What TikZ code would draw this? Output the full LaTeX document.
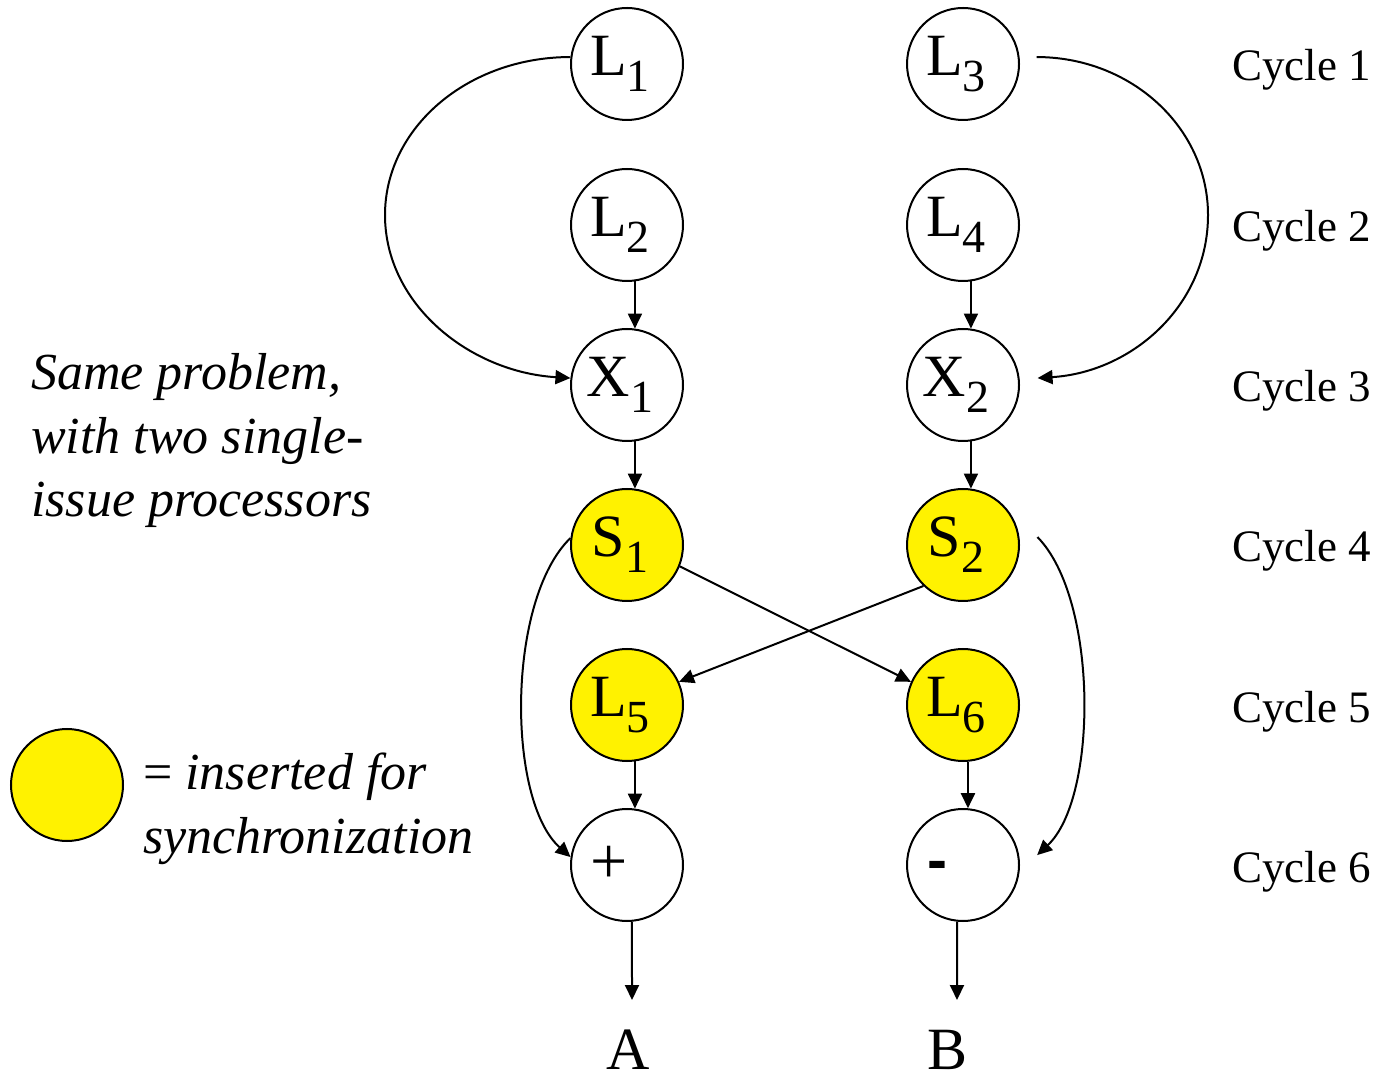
\documentclass[tikz,border=0pt]{standalone}
\usepackage{fontspec}
\setmainfont{Liberation Serif}
\newfontfamily\opfont{Liberation Sans}
\usetikzlibrary{arrows.meta}
% operation label with a lowered index
\newcommand{\opsub}[2]{#1\raisebox{-16pt}{\fontsize{46}{46}\selectfont #2}\kern14pt}

\begin{document}
\begin{tikzpicture}[x=1pt,y=1pt,
  op/.style={circle, draw, line width=2pt, minimum size=112pt, inner sep=0pt,
             font=\fontsize{60}{60}\selectfont},
  sync/.style={op, fill=yellow},
  arr/.style={line width=2pt, -{Triangle[length=15pt,width=14pt]}},
  cyc/.style={anchor=base west, inner sep=0pt, font=\fontsize{45}{45}\selectfont},
  note/.style={anchor=base west, align=left, inner sep=0pt,
               font=\fontsize{52}{63.5}\selectfont\itshape},
  outlbl/.style={anchor=base, inner sep=0pt, font=\fontsize{60}{60}\selectfont}]
\useasboundingbox (0,0) rectangle (1383,1074);

% processor 1 (left) and processor 2 (right)
\node[op]   (L1)    at (627,1010) {\opsub{L}{1}};
\node[op]   (L2)    at (627,849)  {\opsub{L}{2}};
\node[op]   (X1)    at (627,689)  {\opsub{X}{1}};
\node[sync] (S1)    at (627,529)  {\opsub{S}{1}};
\node[sync] (L5)    at (627,369)  {\opsub{L}{5}};
\node[op]   (plus)  at (627,209)  {{\fontsize{66}{66}\selectfont +}\kern36pt};

\node[op]   (L3)    at (963,1010) {\opsub{L}{3}};
\node[op]   (L4)    at (963,849)  {\opsub{L}{4}};
\node[op]   (X2)    at (963,689)  {\opsub{X}{2}};
\node[sync] (S2)    at (963,529)  {\opsub{S}{2}};
\node[sync] (L6)    at (963,369)  {\opsub{L}{6}};
\node[op]   (minus) at (963,209)  {\raisebox{-15pt}[0pt][0pt]{\opfont\bfseries -}\kern52pt};

\node[outlbl] (A) at (628,5) {A};
\node[outlbl] (B) at (947,5) {B};
\coordinate (aout) at (632,74);
\coordinate (bout) at (957,74);

% cycle labels
\node[cyc] (c1) at (1232,993) {Cycle 1};
\node[cyc] (c2) at (1232,832) {Cycle 2};
\node[cyc] (c3) at (1232,672) {Cycle 3};
\node[cyc] (c4) at (1232,512) {Cycle 4};
\node[cyc] (c5) at (1232,352) {Cycle 5};
\node[cyc] (c6) at (1232,192) {Cycle 6};

% notes (base anchor sits on the last line)
\node[note] (txt) at (31,557) {Same problem,\\with two single-\\issue processors};
\node[sync] (key) at (67,289) {};
\node[note] (keytxt) at (143,221) {{\upshape =} inserted for\\synchronization};

% straight dependences
\draw[arr] (L2.-82) -- (X1.82);
\draw[arr] (X1.-82) -- (S1.82);
\draw[arr] (L5.-82) -- (plus.82);
\draw[arr] (plus.-85) -- (aout);
\draw[arr] (L4.-82) -- (X2.82);
\draw[arr] (X2.-82) -- (S2.82);
\draw[arr] (L6.-85) -- (minus.85);
\draw[arr] (minus.-96) -- (bout);

% crossing synchronization edges
\draw[arr] (S1.-22) -- (L6.156);
\draw[arr] (S2.226) -- (L5.24);

% long-range dependences on the left
\coordinate (lbend) at (385,859);
\draw[arr] (L1.173) .. controls +(-103,0) and +(0,87) .. (lbend)
                    .. controls +(0,-90) and +(-100,6) .. (X1.173);
\draw[arr] (S1.173) .. controls +(-64,-62) and +(-64,57) .. (plus.172);

% long-range dependences on the right (drawn with a small gap)
\coordinate (r3s) at ([xshift=17pt]L3.7);
\coordinate (rx2) at ([xshift=18pt]X2.7);
\coordinate (rbend) at (1208,859);
\draw[arr] (r3s) .. controls +(95,0) and +(0,87) .. (rbend)
                 .. controls +(0,-90) and +(95,6) .. (rx2);
\coordinate (s2s) at ([xshift=18pt]S2.8);
\coordinate (mne) at ([xshift=18pt]minus.10);
\draw[arr] (s2s) .. controls +(61,-62) and +(61,57) .. (mne);
\end{tikzpicture}
\end{document}
